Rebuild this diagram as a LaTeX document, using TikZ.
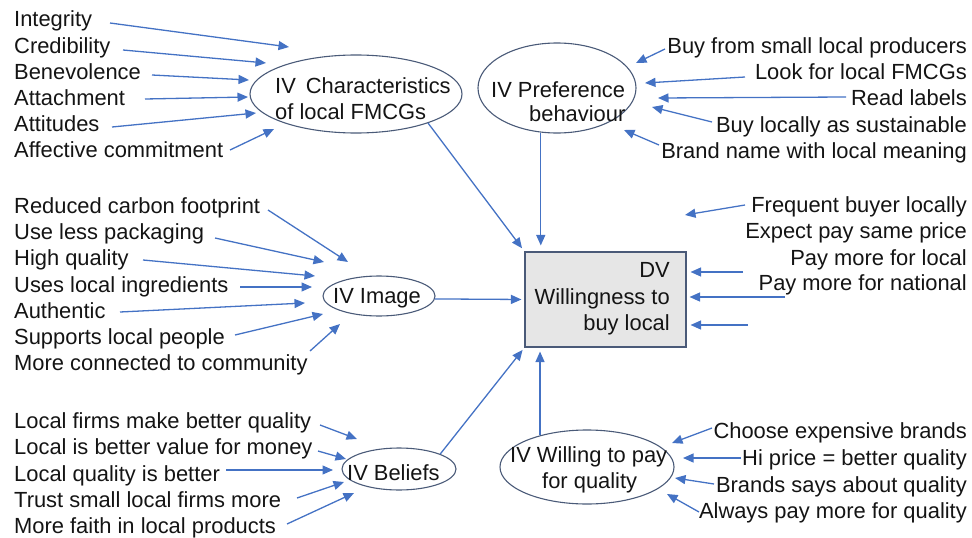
\documentclass[tikz,border=0pt]{standalone}
\usepackage{fontspec}
\setmainfont{Liberation Sans}
\usetikzlibrary{arrows.meta,shapes.geometric}
\definecolor{arrowblue}{HTML}{4472C4}
\definecolor{edgecol}{HTML}{4A5A78}
\definecolor{txtcol}{HTML}{141414}
\definecolor{boxfill}{HTML}{E6E6E6}
\newcommand\dfont{\fontsize{21.9}{26}\selectfont}
\tikzset{
 lt/.style={anchor=base west, inner sep=0pt, font=\dfont, text=txtcol},
 rt/.style={anchor=base east, inner sep=0pt, font=\dfont, text=txtcol},
 ell/.style={ellipse, draw=edgecol, line width=1.1pt, inner sep=0pt},
 arr/.style={draw=arrowblue, line width=1.3pt, -{Triangle[length=10.5pt,width=9pt]}},
}
\begin{document}
\begin{tikzpicture}[x=1pt,y=-1pt]
\useasboundingbox (0,0) rectangle (972,538);

% ---------- Characteristics ----------
\node[ell, minimum width=212pt, minimum height=78pt] (char) at (356,94) {};
\node[lt] (charA) at (275,93) {IV\hspace{10pt}Characteristics};
\node[lt] (charB) at (275,119) {of local FMCGs};
\node[lt] (a1) at (14,27) {Integrity};
\node[lt] (a2) at (14,53) {Credibility};
\node[lt] (a3) at (14,79) {Benevolence};
\node[lt] (a4) at (14,105) {Attachment};
\node[lt] (a5) at (14,131) {Attitudes};
\node[lt] (a6) at (14,157) {Affective commitment};
\coordinate (ea1) at (289,47);
\coordinate (ea2) at (266,63);
\coordinate (ea3) at (249,80);
\coordinate (ea4) at (248,97);
\coordinate (ea5) at (256,113);
\coordinate (ea6) at (274,129);
\draw[arr] ([shift={(96,-4)}]a1.base west) -- (ea1);
\draw[arr] ([shift={(109,-3)}]a2.base west) -- (ea2);
\draw[arr] ([shift={(138,-4)}]a3.base west) -- (ea3);
\draw[arr] ([shift={(131,-6)}]a4.base west) -- (ea4);
\draw[arr] ([shift={(98,-4)}]a5.base west) -- (ea5);
\draw[arr] ([shift={(216,-7)}]a6.base west) -- (ea6);

% ---------- Preference ----------
\node[ell, minimum width=158pt, minimum height=90pt] (pref) at (557,88) {};
\node[lt] (prefA) at (491,97) {IV Preference};
\node[lt] (prefB) at (529,121) {behaviour};
\node[rt] (b1) at (967,53) {Buy from small local producers};
\node[rt] (b2) at (967,79) {Look for local FMCGs};
\node[rt] (b3) at (967,105) {Read labels};
\node[rt] (b4) at (967,132) {Buy locally as sustainable};
\node[rt] (b5) at (967,158) {Brand name with local meaning};
\coordinate (eb1) at (636,63);
\coordinate (eb2) at (645,83);
\coordinate (eb3) at (658,98);
\coordinate (eb4) at (652,107);
\coordinate (eb5) at (624,130);
\draw[arr] ([shift={(-302,-4)}]b1.base east) -- (eb1);
\draw[arr] ([shift={(-222,-2)}]b2.base east) -- (eb2);
\draw[arr] ([shift={(-121,-8)}]b3.base east) -- (eb3);
\draw[arr] ([shift={(-255,-10)}]b4.base east) -- (eb4);
\draw[arr] ([shift={(-308,-13)}]b5.base east) -- (eb5);

% ---------- Image ----------
\node[ell, minimum width=112pt, minimum height=40pt] (img) at (379,296) {};
\node[lt] (imgA) at (333,303) {IV Image};
\node[lt] (c1) at (14,213) {Reduced carbon footprint};
\node[lt] (c2) at (14,239) {Use less packaging};
\node[lt] (c3) at (14,265) {High quality};
\node[lt] (c4) at (14,292) {Uses local ingredients};
\node[lt] (c5) at (14,318) {Authentic};
\node[lt] (c6) at (14,344) {Supports local people};
\node[lt] (c7) at (14,370) {More connected to community};
\coordinate (ec1) at (348,262);
\coordinate (ec2) at (324,262);
\coordinate (ec3) at (315,276);
\coordinate (ec4) at (312,287);
\coordinate (ec5) at (305,303);
\coordinate (ec6) at (323,314);
\coordinate (ec7) at (340,324);
\draw[arr] ([shift={(254,-3)}]c1.base west) -- (ec1);
\draw[arr] ([shift={(201,-1)}]c2.base west) -- (ec2);
\draw[arr] ([shift={(129,-5)}]c3.base west) -- (ec3);
\draw[arr] ([shift={(226,-5)}]c4.base west) -- (ec4);
\draw[arr] ([shift={(106,-6)}]c5.base west) -- (ec5);
\draw[arr] ([shift={(221,-9)}]c6.base west) -- (ec6);
\draw[arr] ([shift={(296,-19)}]c7.base west) -- (ec7);

% ---------- DV ----------
\node[draw=edgecol, fill=boxfill, line width=1.1pt, minimum width=161pt, minimum height=95pt, inner sep=0pt] (dv) at (605.5,299.5) {};
\node[rt] (dvA) at (670,277) {DV};
\node[rt] (dvB) at (670,304) {Willingness to};
\node[rt] (dvC) at (670,330) {buy local};
\node[rt] (d1) at (967,212) {Frequent buyer locally};
\node[rt] (d2) at (967,238) {Expect pay same price};
\node[rt] (d3) at (967,265) {Pay more for local};
\node[rt] (d4) at (967,290) {Pay more for national};
\coordinate (ed1) at (685,215);
\coordinate (sd5) at (748,325);
\draw[arr] ([shift={(-222,-7)}]d1.base east) -- (ed1);
\draw[arr] ([shift={(-224,7)}]d3.base east) -- ([shift={(4,-27.5)}]dv.east);
\draw[arr] ([shift={(-182,7)}]d4.base east) -- ([shift={(3,-2.5)}]dv.east);
\draw[arr] (sd5) -- ([shift={(4,25.5)}]dv.east);

% ---------- Beliefs ----------
\node[ell, minimum width=114pt, minimum height=42pt] (bel) at (399,469) {};
\node[lt] (belA) at (347,480) {IV Beliefs};
\node[lt] (e1) at (14,428) {Local firms make better quality};
\node[lt] (e2) at (14,454) {Local is better value for money};
\node[lt] (e3) at (14,481) {Local quality is better};
\node[lt] (e4) at (14,507) {Trust small local firms more};
\node[lt] (e5) at (14,533) {More faith in local products};
\coordinate (ee1) at (357,439);
\coordinate (ee2) at (346,459);
\coordinate (ee3) at (333,470);
\coordinate (ee4) at (344,482);
\coordinate (ee5) at (354,493);
\draw[arr] ([shift={(306,-3)}]e1.base west) -- (ee1);
\draw[arr] ([shift={(304,-3)}]e2.base west) -- (ee2);
\draw[arr] ([shift={(212,-11)}]e3.base west) -- (ee3);
\draw[arr] ([shift={(283,-9)}]e4.base west) -- (ee4);
\draw[arr] ([shift={(273,-9)}]e5.base west) -- (ee5);

% ---------- Willing to pay ----------
\node[ell, minimum width=174pt, minimum height=74pt] (will) at (587,467) {};
\node[lt] (willA) at (510,462) {IV Willing to pay};
\node[lt] (willB) at (542,488) {for quality};
\node[rt] (f1) at (967,438) {Choose expensive brands};
\node[rt] (f2) at (967,465) {Hi price = better quality};
\node[rt] (f3) at (967,492) {Brands says about quality};
\node[rt] (f4) at (967,518) {Always pay more for quality};
\coordinate (ef1) at (672,443);
\coordinate (ef2) at (683,458);
\coordinate (ef3) at (675,478);
\coordinate (ef4) at (667,494);
\draw[arr] ([shift={(-255,-10)}]f1.base east) -- (ef1);
\draw[arr] ([shift={(-226,-7)}]f2.base east) -- (ef2);
\draw[arr] ([shift={(-253,-8)}]f3.base east) -- (ef3);
\draw[arr] ([shift={(-268,-6)}]f4.base east) -- (ef4);

% ---------- IV -> DV ----------
\draw[arr, shorten >=4pt] (char.-22) -- (dv.north west);
\draw[arr, shorten >=6pt] (pref.-110) -- (pref.-110 |- dv.north);
\draw[arr, shorten >=3pt] (img.-3) -- (dv.west);
\draw[arr, shorten >=3pt] (bel.20) -- (dv.south west);
\draw[arr, shorten >=4pt] (will.146) -- (will.146 |- dv.south);
\end{tikzpicture}
\end{document}
